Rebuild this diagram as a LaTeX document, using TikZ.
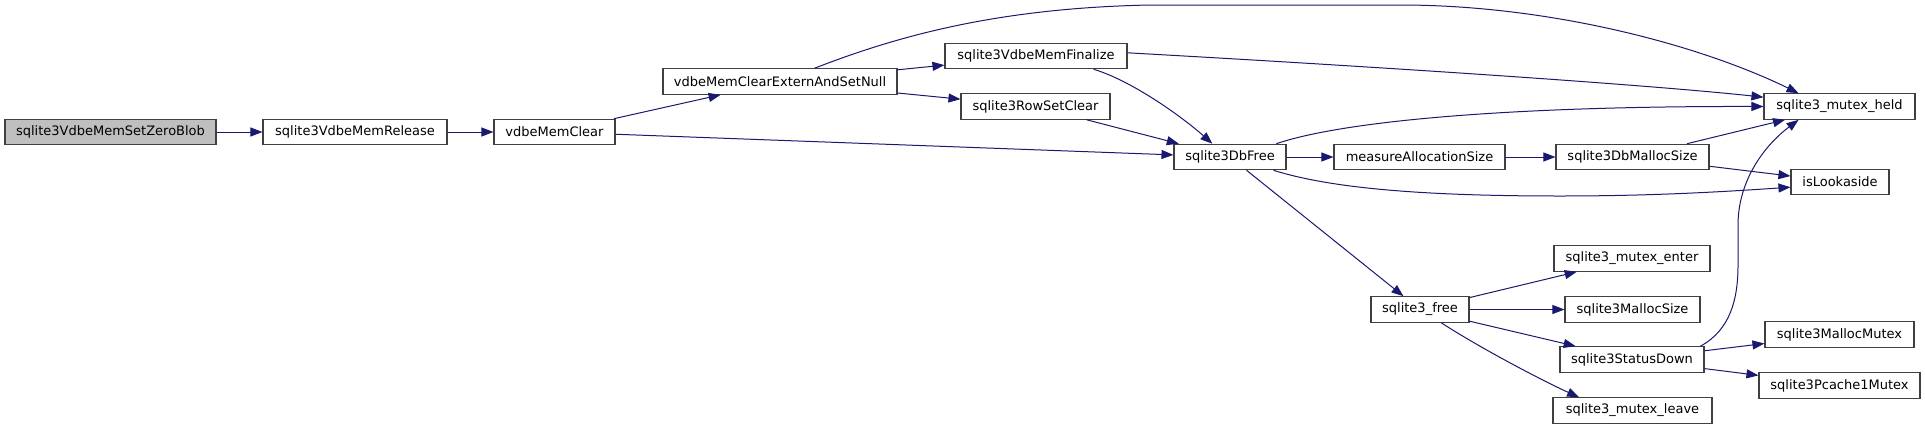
\documentclass[tikz,border=0pt]{standalone}
\usepackage{fontspec}
\setmainfont{DejaVu Sans}
\usetikzlibrary{arrows.meta}
\definecolor{edgeblue}{HTML}{191970}
\definecolor{nodeborder}{HTML}{404040}
\definecolor{startfill}{HTML}{BFBFBF}
\begin{document}
\begin{tikzpicture}[x=1pt,y=-1pt,
  fn/.style={draw=nodeborder, line width=1.1pt, fill=white, minimum height=25.5pt,
    inner sep=0pt, font=\fontsize{13}{15}\selectfont, anchor=center},
  startnode/.style={fn, fill=startfill},
  edge/.style={draw=edgeblue, line width=1pt, -{Triangle[length=12pt,width=9pt]}}]
\useasboundingbox (0,0) rectangle (1925,429);
\fill[white] (0,0) rectangle (1925,429);

\node[startnode, minimum width=211pt] (zb) at (110.5,132) {sqlite3VdbeMemSetZeroBlob};
\node[fn, minimum width=184pt] (rel) at (355,132) {sqlite3VdbeMemRelease};
\node[fn, minimum width=121pt] (clr) at (554.5,132) {vdbeMemClear};
\node[fn, minimum width=234pt] (ext) at (780,81.5) {vdbeMemClearExternAndSetNull};
\node[fn, minimum width=182pt] (fin) at (1036,56) {sqlite3VdbeMemFinalize};
\node[fn, minimum width=149pt] (row) at (1035.5,106.5) {sqlite3RowSetClear};
\node[fn, minimum width=112pt] (dbf) at (1230,157) {sqlite3DbFree};
\node[fn, minimum width=171pt] (mas) at (1419.5,157) {measureAllocationSize};
\node[fn, minimum width=153pt] (dms) at (1632.5,157) {sqlite3DbMallocSize};
\node[fn, minimum width=151pt] (held) at (1839.5,106.5) {sqlite3\_mutex\_held};
\node[fn, minimum width=98pt] (look) at (1840,182) {isLookaside};
\node[fn, minimum width=98pt] (free) at (1420,309.5) {sqlite3\_free};
\node[fn, minimum width=156pt] (enter) at (1632,258.5) {sqlite3\_mutex\_enter};
\node[fn, minimum width=135pt] (msize) at (1632.5,309.5) {sqlite3MallocSize};
\node[fn, minimum width=144pt] (sdown) at (1632,359.5) {sqlite3StatusDown};
\node[fn, minimum width=159pt] (leave) at (1632.5,410.5) {sqlite3\_mutex\_leave};
\node[fn, minimum width=149pt] (mmutex) at (1839.5,334.5) {sqlite3MallocMutex};
\node[fn, minimum width=161pt] (pmutex) at (1839.5,385.5) {sqlite3Pcache1Mutex};

\draw[edge] (zb) -- (rel);
\draw[edge] (rel) -- (clr);
\draw[edge] (clr) -- (ext);
\draw[edge] (clr) -- (dbf);
\draw[edge] (ext) -- (fin);
\draw[edge] (ext) -- (row);
\draw[edge] (ext.21) .. controls (900,35) and (1000,8) .. (1150,5) -- (1400,5)
  .. controls (1550,5) and (1700,45) .. (held.162);
\draw[edge] (fin.2) .. controls (1400,68) and (1650,85) .. (held.173);
\draw[edge] (fin.-13) .. controls (1130,80) and (1180,115) .. (dbf.143);
\draw[edge] (row) -- (dbf);
\draw[edge] (dbf.16) .. controls (1340,122) and (1500,106) .. (held.west);
\draw[edge] (dbf) -- (mas);
\draw[edge] (dbf.-17) .. controls (1330,188) and (1420,196) .. (1560,196)
  .. controls (1650,196) and (1720,192) .. (look.186);
\draw[edge] (dbf) -- (free);
\draw[edge] (mas) -- (dms);
\draw[edge] (dms) -- (held);
\draw[edge] (dms) -- (look);
\draw[edge] (free) -- (enter);
\draw[edge] (free) -- (msize);
\draw[edge] (free) -- (sdown);
\draw[edge] (free.-32) .. controls (1480,348) and (1545,382) .. (leave.166);
\draw[edge] (sdown.11) .. controls (1730,330) and (1738,300) .. (1738,265) -- (1738,225)
  .. controls (1738,180) and (1765,145) .. (held.-162);
\draw[edge] (sdown) -- (mmutex);
\draw[edge] (sdown) -- (pmutex);
\end{tikzpicture}
\end{document}
